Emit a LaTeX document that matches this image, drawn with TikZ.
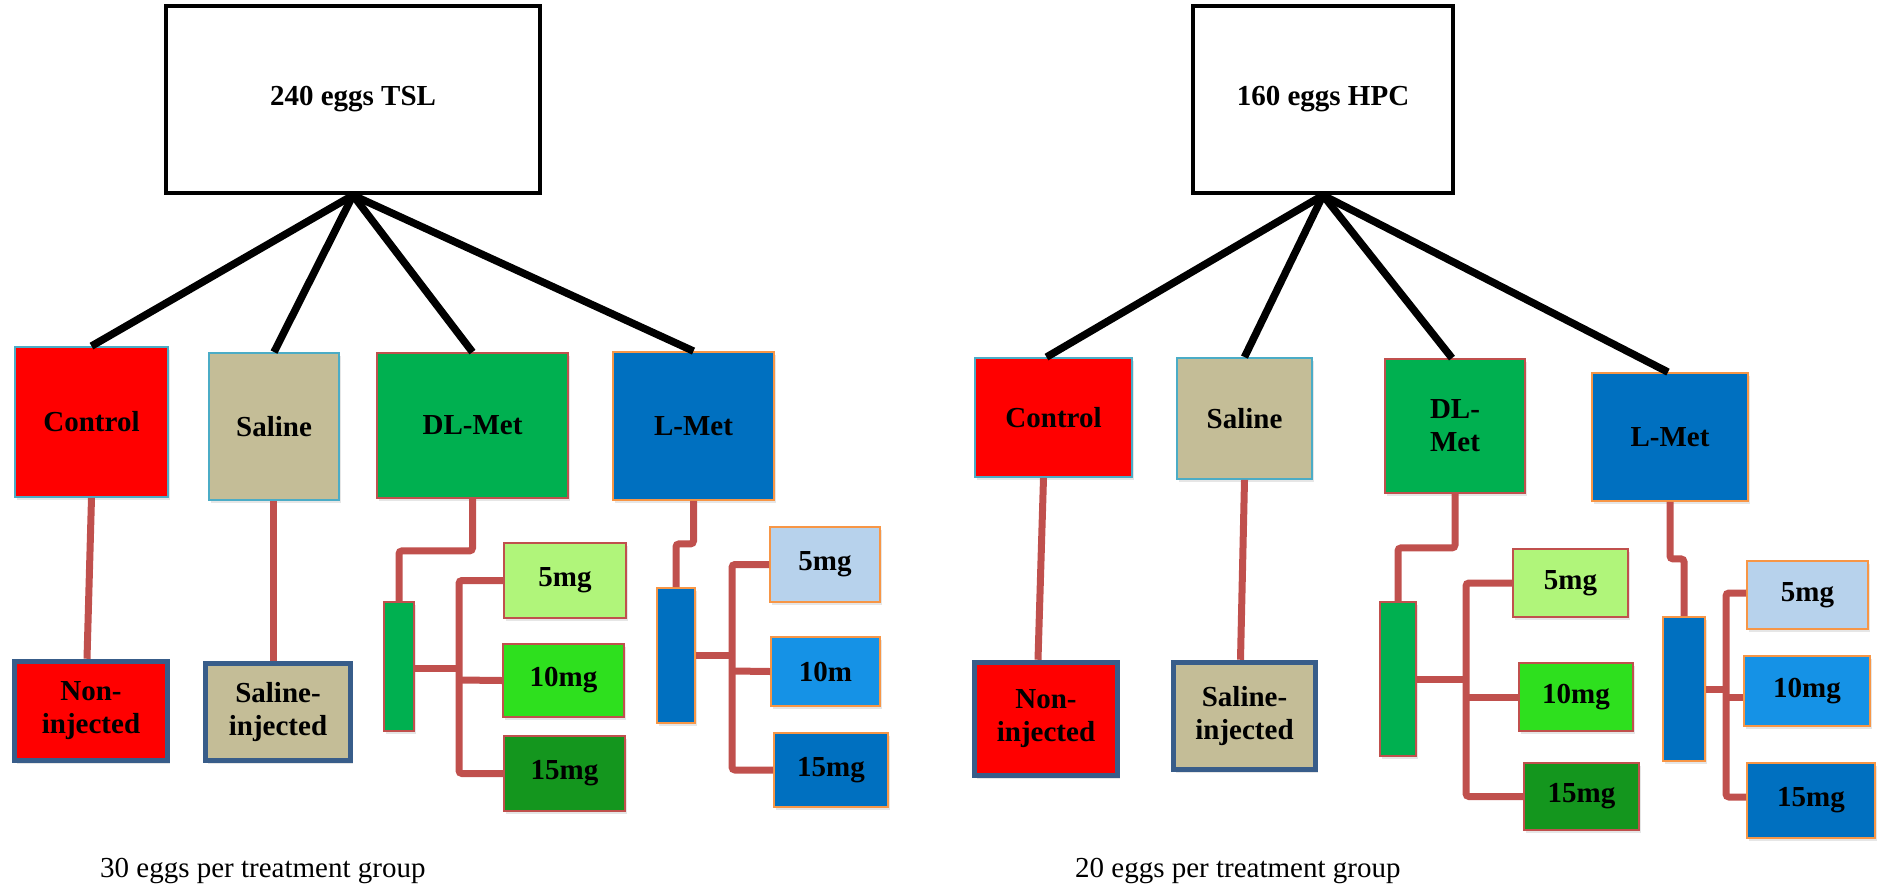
\documentclass[tikz,border=0pt]{standalone}
\usepackage{fontspec}
\setmainfont{Liberation Serif}
\usetikzlibrary{shadows}
\definecolor{cRed}{HTML}{FF0000}
\definecolor{cTan}{HTML}{C4BD97}
\definecolor{cGreen}{HTML}{00B050}
\definecolor{cBlue}{HTML}{0070C0}
\definecolor{cLtGreen}{HTML}{B0F57A}
\definecolor{cMidGreen}{HTML}{2EE01E}
\definecolor{cDkGreen}{HTML}{14961E}
\definecolor{cLtBlue}{HTML}{B7D2EC}
\definecolor{cMidBlue}{HTML}{1592E6}
\definecolor{cBdCyan}{HTML}{4BACC6}
\definecolor{cBdRed}{HTML}{C0504D}
\definecolor{cBdOrange}{HTML}{F79646}
\definecolor{cBdNavy}{HTML}{385D8A}
\definecolor{cConn}{HTML}{C0504D}
\begin{document}
\begin{tikzpicture}[x=1pt,y=-1pt,
  wh/.style 2 args={minimum width=#1pt, minimum height=#2pt},
  box/.style={draw, rectangle, inner sep=0pt, line width=1.8pt,
    font=\fontsize{29}{33}\selectfont\bfseries, align=center,
    drop shadow={shadow xshift=2pt, shadow yshift=-3pt, opacity=0.2}},
  topbox/.style={draw=black, rectangle, inner sep=0pt, line width=4.5pt, fill=white,
    font=\fontsize{29}{33}\selectfont\bfseries, align=center},
  endbox/.style={box, draw=cBdNavy, line width=5.5pt},
  cyanbox/.style={box, draw=cBdCyan},
  redbox/.style={box, draw=cBdRed},
  orgbox/.style={box, draw=cBdOrange},
  redline/.style={draw=cConn, line width=7pt, rounded corners=3pt},
  blkline/.style={draw=black, line width=7.5pt},
  note/.style={font=\fontsize{29}{33}\selectfont, inner sep=0pt, anchor=base west}
]
\useasboundingbox (0,0) rectangle (1877,884);

% ---------------- left tree ----------------
\node[topbox, wh={374}{187}] (top1) at (353,99.5) {240 eggs TSL};

\node[cyanbox, fill=cRed, wh={153}{150}] (ctrlL) at (91.5,422) {Control};
\node[cyanbox, fill=cTan, wh={130}{147}] (salL) at (274,426.5) {Saline};
\node[redbox, fill=cGreen, wh={191}{145}] (dlL) at (472.5,425.5) {DL-Met};
\node[orgbox, fill=cBlue, wh={161}{148}] (lmL) at (693.5,426) {L-Met};

\node[endbox, fill=cRed, wh={153}{99}] (niL) at (91,711) {Non-\\injected};
\node[endbox, fill=cTan, wh={145}{97}] (siL) at (278,712) {Saline-\\injected};

\node[redbox, fill=cGreen, wh={30}{129}] (barDL) at (399,666.5) {};
\node[redbox, fill=cLtGreen, wh={122}{75}] (d5L) at (565,580.5) {5mg};
\node[redbox, fill=cMidGreen, wh={121}{73}] (d10L) at (563.5,680.5) {10mg};
\node[redbox, fill=cDkGreen, wh={121}{75}] (d15L) at (564.5,773.5) {15mg};

\node[orgbox, fill=cBlue, wh={38}{135}] (barLL) at (676,655.5) {};
\node[orgbox, fill=cLtBlue, wh={110}{75}] (l5L) at (825,564.5) {5mg};
\node[orgbox, fill=cMidBlue, wh={109}{69}] (l10L) at (825.5,671.5) {10m};
\node[orgbox, fill=cBlue, wh={114}{74}] (l15L) at (831,770) {15mg};

\coordinate (jDL) at (459,680);
\coordinate (jLL) at (732,671);

\draw[blkline] (top1.south) -- (ctrlL.north);
\draw[blkline] (top1.south) -- (salL.north);
\draw[blkline] (top1.south) -- (dlL.north);
\draw[blkline] (top1.south) -- (lmL.north);

\draw[redline] (ctrlL.south) -- ([xshift=-4pt]niL.north);
\draw[redline] ([xshift=-1pt]salL.south) -- ([xshift=-5pt]siL.north);

\draw[redline] (dlL.south) -- ++(0,52) -| (barDL.north);
\draw[redline] (barDL.east |- 0,668) -- (jDL |- 0,668);
\draw[redline] (d5L.west) -| (jDL) |- (d15L.west);
\draw[redline] (jDL) -- (d10L.west);

\draw[redline] (lmL.south) -- ++(0,43) -| (barLL.north);
\draw[redline] (barLL.east |- 0,655) -- (jLL |- 0,655);
\draw[redline] (l5L.west) -| (jLL) |- (l15L.west);
\draw[redline] (jLL) -- (l10L.west);

\node[note] (noteL) at (100,877) {30 eggs per treatment group};

% ---------------- right tree ----------------
\node[topbox, wh={260}{187}] (top2) at (1323,99.5) {160 eggs HPC};

\node[cyanbox, fill=cRed, wh={157}{119}] (ctrlR) at (1053.5,417.5) {Control};
\node[cyanbox, fill=cTan, wh={135}{121}] (salR) at (1244.5,418.5) {Saline};
\node[redbox, fill=cGreen, wh={140}{134}] (dlR) at (1455,426) {DL-\\Met};
\node[orgbox, fill=cBlue, wh={156}{128}] (lmR) at (1670,437) {L-Met};

\node[endbox, fill=cRed, wh={143}{113}] (niR) at (1046,719) {Non-\\injected};
\node[endbox, fill=cTan, wh={142}{107}] (siR) at (1244.5,716) {Saline-\\injected};

\node[redbox, fill=cGreen, wh={36}{154}] (barDR) at (1398,679) {};
\node[redbox, fill=cLtGreen, wh={115}{68}] (d5R) at (1570.5,583) {5mg};
\node[redbox, fill=cMidGreen, wh={114}{68}] (d10R) at (1576,697) {10mg};
\node[redbox, fill=cDkGreen, wh={115}{67}] (d15R) at (1581.5,796.5) {15mg};

\node[orgbox, fill=cBlue, wh={42}{144}] (barLR) at (1684,689) {};
\node[orgbox, fill=cLtBlue, wh={121}{68}] (l5R) at (1807.5,595) {5mg};
\node[orgbox, fill=cMidBlue, wh={126}{70}] (l10R) at (1807,691) {10mg};
\node[orgbox, fill=cBlue, wh={128}{75}] (l15R) at (1811,800.5) {15mg};

\coordinate (jDR) at (1466,697);
\coordinate (jLR) at (1726,697);

\draw[blkline] (top2.south) -- ([xshift=-7pt]ctrlR.north);
\draw[blkline] (top2.south) -- (salR.north);
\draw[blkline] (top2.south) -- ([xshift=-3pt]dlR.north);
\draw[blkline] (top2.south) -- ([xshift=-2pt]lmR.north);

\draw[redline] ([xshift=-10pt]ctrlR.south) -- ([xshift=-8pt]niR.north);
\draw[redline] (salR.south) -- ([xshift=-4pt]siR.north);

\draw[redline] (dlR.south) -- ++(0,54) -| (barDR.north);
\draw[redline] (barDR.east |- 0,679) -- (jDR |- 0,679);
\draw[redline] (d5R.west) -| (jDR) |- (d15R.west);
\draw[redline] (jDR) -- (d10R.west);

\draw[redline] (lmR.south) -- ++(0,57) -| (barLR.north);
\draw[redline] (barLR.east |- 0,689) -- (jLR |- 0,689);
\draw[redline] (l5R.west |- 0,593) -| (jLR) |- (l15R.west |- 0,797);
\draw[redline] (jLR) -- (l10R.west |- jLR);

\node[note] (noteR) at (1075,877) {20 eggs per treatment group};
\end{tikzpicture}
\end{document}
